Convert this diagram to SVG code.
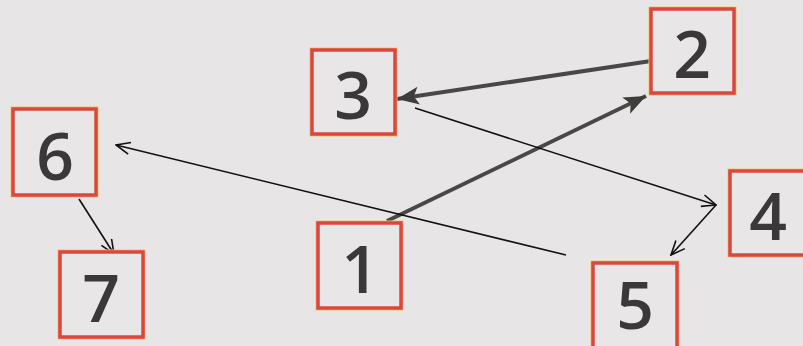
<svg xmlns="http://www.w3.org/2000/svg" width="803" height="346" viewBox="0 0 803 346">
<style>
.box rect.o{fill:none;stroke:#f0c868;stroke-width:5}
.box rect.i{fill:#e8e6e7;stroke:#d9473f;stroke-width:3.5}
.box text{font-family:"Open Sans","Liberation Sans",sans-serif;font-weight:600;font-size:66px;fill:#3b3839;text-anchor:middle}
.thick{stroke:#4a4747;stroke-width:4;fill:none}
.thin{stroke:#111;stroke-width:1.6;fill:none}
</style>
<defs>
<marker id="ah" markerUnits="userSpaceOnUse" markerWidth="24" markerHeight="20" viewBox="0 0 24 20" refX="22" refY="10" orient="auto">
<path d="M0,1 L22,10 L0,19 L5,10 Z" fill="#3f3c3c"/>
</marker>
<marker id="av" markerUnits="userSpaceOnUse" markerWidth="16" markerHeight="14" viewBox="0 0 16 14" refX="15" refY="7" orient="auto">
<path d="M1,1 L15,7 L1,13" fill="none" stroke="#111" stroke-width="1.6"/>
</marker>
</defs>
<rect width="803" height="346" fill="#e7e5e6"/>
<g id="connectors">
<line class="thick" x1="651" y1="61" x2="397" y2="99" marker-end="url(#ah)"/>
<line class="thick" x1="387" y1="221" x2="646" y2="96" marker-end="url(#ah)"/>
<line class="thin" x1="415" y1="108" x2="716" y2="205" marker-end="url(#av)"/>
<line class="thin" x1="716" y1="205" x2="671" y2="255" marker-end="url(#av)"/>
<line class="thin" x1="566" y1="255" x2="116" y2="145" marker-end="url(#av)"/>
<line class="thin" x1="79" y1="199" x2="114" y2="254" marker-end="url(#av)"/>
</g>
<g id="node1" class="box"><rect class="o" x="318" y="223" width="83" height="85"/><rect class="i" x="318" y="223" width="83" height="85"/><text x="360" y="293">1</text></g>
<g id="node2" class="box"><rect class="o" x="651" y="9" width="83" height="84"/><rect class="i" x="651" y="9" width="83" height="84"/><text x="692" y="78">2</text></g>
<g id="node3" class="box"><rect class="o" x="312" y="50" width="83" height="84"/><rect class="i" x="312" y="50" width="83" height="84"/><text x="353" y="119">3</text></g>
<g id="node4" class="box"><rect class="o" x="730" y="171" width="83" height="84"/><rect class="i" x="730" y="171" width="83" height="84"/><text x="768" y="240">4</text></g>
<g id="node5" class="box"><rect class="o" x="593" y="263" width="84" height="86"/><rect class="i" x="593" y="263" width="84" height="86"/><text x="635" y="329">5</text></g>
<g id="node6" class="box"><rect class="o" x="13" y="109" width="83" height="86"/><rect class="i" x="13" y="109" width="83" height="86"/><text x="55" y="180">6</text></g>
<g id="node7" class="box"><rect class="o" x="60" y="252" width="83" height="85"/><rect class="i" x="60" y="252" width="83" height="85"/><text x="101" y="322">7</text></g>
</svg>
